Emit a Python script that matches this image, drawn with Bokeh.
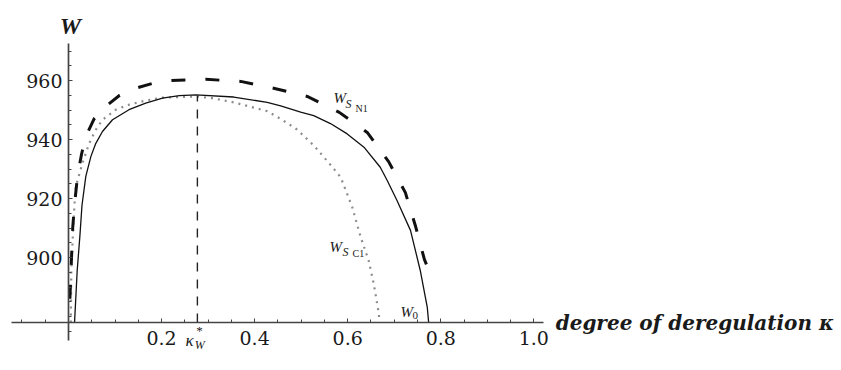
from bokeh.plotting import figure
from bokeh.models import FixedTicker, PrintfTickFormatter, Range1d, Label
from bokeh.embed import file_html
from bokeh.resources import INLINE

# ---- data ----
kappa_W0 = [0.013, 0.0187, 0.0243, 0.029, 0.0372, 0.048, 0.0587, 0.073, 0.0946, 0.130,
            0.166, 0.202, 0.238, 0.274, 0.355, 0.427, 0.456, 0.499, 0.527, 0.563, 0.599,
            0.635, 0.670, 0.685, 0.706, 0.735, 0.756, 0.771, 0.774]
W0 = [878.0, 895.6, 906.9, 917.7, 927.5, 934.2, 938.7, 942.7, 946.7, 950.1,
      952.3, 954.0, 954.9, 955.1, 954.4, 952.6, 951.4, 949.3, 948.1, 945.4, 941.9,
      937.4, 930.6, 926.1, 919.3, 909.2, 895.6, 883.2, 878.0]

kappa_SN1 = [0.003, 0.006, 0.009, 0.013, 0.0193, 0.028, 0.037, 0.055, 0.080, 0.110, 0.145,
             0.180, 0.216, 0.295, 0.370, 0.443, 0.513, 0.582, 0.642, 0.688, 0.724, 0.746,
             0.765, 0.771]
W_SN1 = [886.0, 898.0, 910.0, 918.0, 927.5, 935.0, 941.0, 947.0, 951.2, 955.0, 957.4,
         959.0, 960.0, 960.4, 959.7, 957.3, 954.6, 949.2, 942.4, 932.5, 922.0, 910.5,
         899.3, 897.0]

kappa_SC1 = [0.005, 0.006, 0.0092, 0.0129, 0.0157, 0.030, 0.0445, 0.0587, 0.073, 0.1017,
             0.130, 0.166, 0.202, 0.274, 0.309, 0.355, 0.427, 0.456, 0.491, 0.527, 0.560,
             0.585, 0.610, 0.628, 0.645, 0.656, 0.667, 0.668]
W_SC1 = [878.0, 895.6, 906.9, 918.2, 924.1, 932.0, 938.7, 943.3, 946.7, 950.1,
         951.8, 953.2, 954.2, 954.6, 954.0, 952.6, 949.6, 947.0, 943.4, 938.0, 932.0,
         927.2, 917.0, 906.9, 899.0, 891.1, 880.9, 878.0]

kappa_star = 0.277
W_star = 954.8
W_axis = 878.0

x_major = [0.2, 0.4, 0.6, 0.8, 1.0]
x_minor = [-0.1, -0.05, 0.05, 0.1, 0.15, 0.25, 0.3, 0.35, 0.45, 0.5, 0.55, 0.65,
           0.7, 0.75, 0.85, 0.9, 0.95]
y_major = [900, 920, 940, 960]
y_minor = [875, 880, 885, 890, 895, 905, 910, 915, 925, 930, 935, 945, 950, 955, 965, 970]

# ---- figure ----
p = figure(width=841, height=370,
           x_range=Range1d(-0.14614, 1.66129), y_range=Range1d(861.695, 987.119),
           output_backend="svg", toolbar_location=None, min_border=0,
           outline_line_color=None, background_fill_color="white")
p.grid.visible = False

ax_col = "#444444"
lab_col = "#1a1a1a"

xa = p.xaxis[0]
xa.fixed_location = W_axis
xa.ticker = FixedTicker(ticks=x_major, minor_ticks=x_minor)
xa.formatter = PrintfTickFormatter(format="%.1f")
xa.bounds = (-0.1225, 1.0209)

ya = p.yaxis[0]
ya.fixed_location = 0
ya.ticker = FixedTicker(ticks=y_major, minor_ticks=y_minor)
ya.formatter = PrintfTickFormatter(format="%d")
ya.bounds = (871.9, 972.5)

for a in (xa, ya):
    a.axis_line_color = ax_col
    a.axis_line_width = 1.7
    a.major_tick_line_color = ax_col
    a.minor_tick_line_color = ax_col
    a.major_tick_in = 4
    a.major_tick_out = 0
    a.minor_tick_in = 3
    a.minor_tick_out = 0
    a.major_label_text_font = "DejaVu Serif"
    a.major_label_text_font_size = "19px"
    a.major_label_text_color = lab_col

xa.major_label_standoff = 9
ya.major_label_standoff = 6

# ---- curves ----
p.line(kappa_SC1, W_SC1, line_color="#8c8c8c", line_width=2.2, line_dash="2 5")
p.line(kappa_W0, W0, line_color="#111111", line_width=1.3)
p.line(kappa_SN1, W_SN1, line_color="#111111", line_width=3, line_dash="14 20")
p.line([kappa_star, kappa_star], [W_axis, W_star], line_color="#222222",
       line_width=1.4, line_dash="9 8")

# ---- labels ----
def lab(x, y, t, size, style="italic", font="Liberation Serif", align="left", base="alphabetic"):
    p.add_layout(Label(x=x, y=y, text=t, text_font=font, text_font_size=size,
                       text_font_style=style, text_color=lab_col, text_align=align,
                       text_baseline=base))

lab(0.0043, 978.6, "W", "24px", style="bold italic", align="center", base="middle")
lab(1.047, 877.8, "degree of deregulation κ", "20px", style="bold italic", font="DejaVu Serif")

# kappa*_W
lab(0.2514, 871.9, "κ", "17px")
lab(0.2714, 870.2, "W", "12px")
lab(0.2815, 875.3, "*", "13px", style="normal", align="center", base="middle")

# W_{S_N1}
lab(0.5695, 953.9, "W", "15px")
lab(0.5953, 951.9, "S", "12px")
lab(0.6168, 950.5, "N1", "10px", style="normal")

# W_{S_C1}
lab(0.561, 903.4, "W", "15px")
lab(0.589, 901.7, "S", "12px")
lab(0.6104, 901.4, "C1", "10px", style="normal")

# W_0
lab(0.7135, 881.4, "W", "15px")
lab(0.7393, 880.3, "0", "11px", style="normal")

open("out.html", "w").write(file_html(p, INLINE))
